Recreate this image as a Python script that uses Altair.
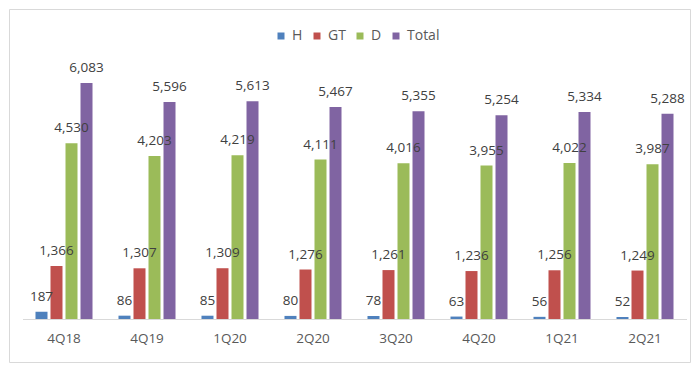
import altair as alt
import pandas as pd

categories = ["4Q18", "4Q19", "1Q20", "2Q20", "3Q20", "4Q20", "1Q21", "2Q21"]
series = ["H", "GT", "D", "Total"]
h_vals = [187, 86, 85, 80, 78, 63, 56, 52]
gt_vals = [1366, 1307, 1309, 1276, 1261, 1236, 1256, 1249]
d_vals = [4530, 4203, 4219, 4111, 4016, 3955, 4022, 3987]
total_vals = [6083, 5596, 5613, 5467, 5355, 5254, 5334, 5288]
colors = ["#4F81BD", "#C0504D", "#9BBB59", "#8064A2"]

rows = []
for s, vals in zip(series, [h_vals, gt_vals, d_vals, total_vals]):
    for c, v in zip(categories, vals):
        rows.append({"quarter": c, "series": s, "value": v})
df = pd.DataFrame(rows)

FONT = "Open Sans"

x = alt.X(
    "quarter:N",
    sort=categories,
    scale=alt.Scale(range=[13.5, 677.5], paddingInner=0.313, paddingOuter=0.1565),
    axis=alt.Axis(
        title=None, labelAngle=0, ticks=False, tickSize=0,
        domainColor="#d9d9d9", labelColor="#595959", labelFontSize=13.5,
        labelFont=FONT, labelPadding=12, offset=-43,
    ),
)
xo = alt.XOffset("series:N", sort=series, scale=alt.Scale(paddingInner=0.2, paddingOuter=0))
y = alt.Y("value:Q", scale=alt.Scale(domain=[-1108, 7990], nice=False, zero=True), axis=None)

bars = alt.Chart(df).mark_bar().encode(
    x=x, xOffset=xo, y=y, y2=alt.datum(0),
    color=alt.Color(
        "series:N",
        scale=alt.Scale(domain=series, range=colors),
        legend=alt.Legend(
            title=None, orient="none", direction="horizontal", legendX=265, legendY=20,
            symbolType="square", symbolSize=49, symbolStrokeWidth=0, labelFont=FONT,
            labelFontSize=14, labelColor="#595959", columnPadding=7, padding=0,
            symbolOffset=0, labelOffset=4,
        ),
    ),
)

labels = alt.Chart(df).mark_text(
    baseline="alphabetic", dy=-11, font=FONT, fontSize=13.5, color="#404040"
).encode(
    x=x, xOffset=xo, y=y, text=alt.Text("value:Q", format=",")
)

chart = alt.layer(bars, labels).properties(
    width=681, height=353, padding=1, autosize=alt.AutoSizeParams(type="none"),
    background="white",
).configure_view(stroke="#d9d9d9", strokeWidth=1)

chart.save("out.html", embed_options={"renderer": "svg", "actions": False})
